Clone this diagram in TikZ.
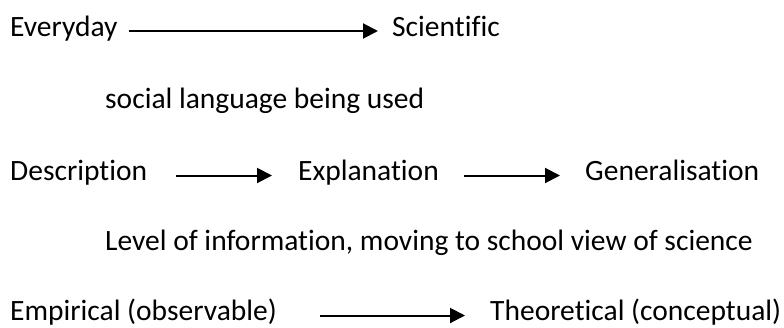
\documentclass[tikz,border=0pt]{standalone}
\usepackage{fontspec}
\setmainfont{Carlito}[Ligatures=NoCommon]
\usepackage{tikz}
\usetikzlibrary{arrows.meta, positioning, calc}
\tikzstyle{arrow} = [line width=2pt,-{Triangle[length=15pt,width=15pt]}]
\tikzstyle{term} = [inner sep=0pt, anchor=base west, font=\fontsize{29.5}{33}\selectfont]

\begin{document}
\begin{tikzpicture}[x=1pt, y=-1pt]
        \useasboundingbox (0,0) rectangle (784,327);
        % row 1
        \node[term] (every) at (10,36) {Everyday};
        \node[term] (sci) at (392,36) {Scientific};
        \node[term] (social) at (105,108) {social language being used};
        % row 3
        \node[term] (desc) at (10,180) {Description};
        \node[term] (expl) at (298,180) {Explanation};
        \node[term] (gen) at (585,180) {Generalisation};
        \node[term] (level) at (105,250) {Level of information, moving to school view of science};
        % row 5
        \node[term] (emp) at (10,320) {Empirical (observable)};
        \node[term] (theo) at (490,320) {Theoretical (conceptual)};
        % arrows
        \draw[arrow, shorten <=11pt, shorten >=14pt] ([yshift=5pt]every.base east) -- ([yshift=5pt]sci.base west);
        \draw[arrow, shorten >=26pt] ([yshift=4.5pt,xshift=-122pt]expl.base west) -- ([yshift=4.5pt]expl.base west);
        \draw[arrow, shorten >=25pt] ([yshift=4.5pt,xshift=-121pt]gen.base west) -- ([yshift=4.5pt]gen.base west);
        \draw[arrow, shorten >=25pt] ([yshift=4.5pt,xshift=-170pt]theo.base west) -- ([yshift=4.5pt]theo.base west);
\end{tikzpicture}
\end{document}
